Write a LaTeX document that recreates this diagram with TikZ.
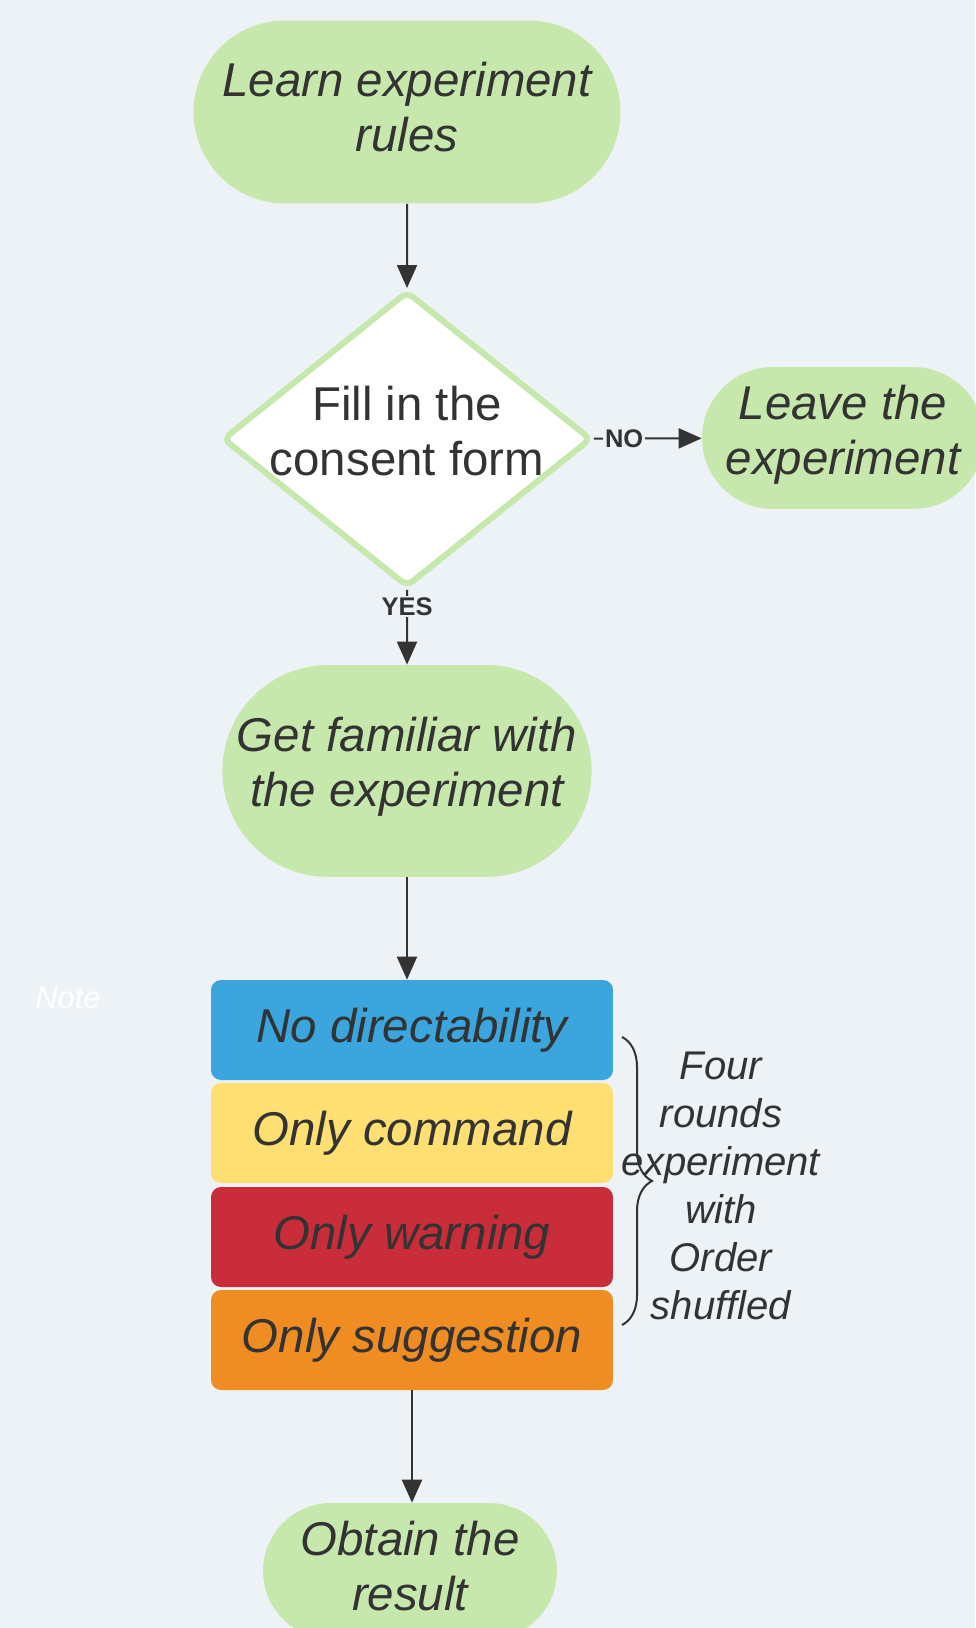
\documentclass[tikz,border=0pt]{standalone}
\usepackage{fontspec}
\setmainfont{Liberation Sans}
\usetikzlibrary{positioning,arrows.meta,shapes.geometric,shapes.misc,decorations.pathreplacing}
\definecolor{bgcol}{HTML}{EDF2F6}
\definecolor{termgreen}{HTML}{C7E8AC}
\definecolor{inkgray}{HTML}{333333}
\definecolor{condblue}{HTML}{3AA6DD}
\definecolor{condyellow}{HTML}{FFDF71}
\definecolor{condred}{HTML}{C92D39}
\definecolor{condorange}{HTML}{EF8D22}
\newcommand\flowfont{\fontsize{27}{31}\selectfont}
\newcommand\bracefont{\fontsize{22.8}{27.3}\selectfont}
\newcommand\notefont{\fontsize{17.6}{21}\selectfont}
\newcommand\choicefont{\fontsize{14.5}{17}\selectfont}
\tikzset{
	x=0.02cm, y=-0.02cm, % one unit is one pixel of the sketch, y grows downwards
	terminal/.style={rounded rectangle, fill=termgreen, align=center, text=inkgray, font=\flowfont\itshape, inner sep=0pt}, % stadium shaped start / end boxes
	decision/.style={diamond, draw=termgreen, line width=0.12cm, fill=white, rounded corners=0.15cm, inner sep=0pt},
	condbox/.style={rectangle, rounded corners=0.2cm, minimum width=8.04cm, minimum height=2cm, text=inkgray, font=\flowfont\itshape},
	flow/.style={-{Triangle[width=0.4cm,length=0.46cm]}, line width=0.04cm, draw=inkgray},
	choice/.style={fill=bgcol, inner sep=1pt, text=inkgray, font=\choicefont\bfseries}
}

\begin{document}
\begin{tikzpicture}
	\useasboundingbox (0,0) rectangle (975,1628);
	\fill[bgcol] (0,0) rectangle (975,1628);

	\node[terminal, minimum width=8.54cm, minimum height=3.66cm, text depth=6pt] (learn) at (407,112) {Learn experiment\\rules};
	\node[decision, minimum width=7.38cm, minimum height=5.92cm] (consent) at (407,439) {};
	\node[align=center, text=inkgray, font=\flowfont, yshift=4.5pt] (consenttext) at (consent) {Fill in the\\consent form};
	\node[terminal, minimum width=5.64cm, minimum height=2.84cm, text depth=9.5pt] (leave) at (843,438) {Leave the\\experiment};
	\node[terminal, minimum width=7.3cm, minimum height=4.24cm, text depth=10.5pt] (familiar) at (407,771) {Get familiar with\\the experiment};

	\node[condbox, fill=condblue] (nodir) at (412,1030) {No directability};
	\node[condbox, fill=condyellow] (command) at (412,1133) {Only command};
	\node[condbox, fill=condred] (warning) at (412,1237) {Only warning};
	\node[condbox, fill=condorange] (suggest) at (412,1340) {Only suggestion};

	\node[terminal, minimum width=5.88cm, minimum height=2.72cm, text depth=6pt] (obtain) at (410,1571) {Obtain the\\result};

	\node[text=white, font=\notefont\itshape] (note) at (68,998) {Note};
	\node[align=center, text=inkgray, font=\bracefont\itshape] (rounds) at (721,1186) {Four\\rounds\\experiment\\with\\Order\\shuffled};

	\draw[flow] (learn) -- (consent);
	\draw[flow] (consent) -- (leave) node[choice, pos=0.28] {NO};
	\draw[flow] (consent) -- (familiar) node[choice, pos=0.22] {YES};
	\draw[flow] (familiar.south) -- (familiar.south |- nodir.north);
	\draw[flow] (suggest.south) -- (suggest.south |- obtain.north);

	\draw[inkgray, line width=0.04cm, decorate, decoration={brace, amplitude=0.6cm}] (622,1037) -- (622,1325);
\end{tikzpicture}
\end{document}
